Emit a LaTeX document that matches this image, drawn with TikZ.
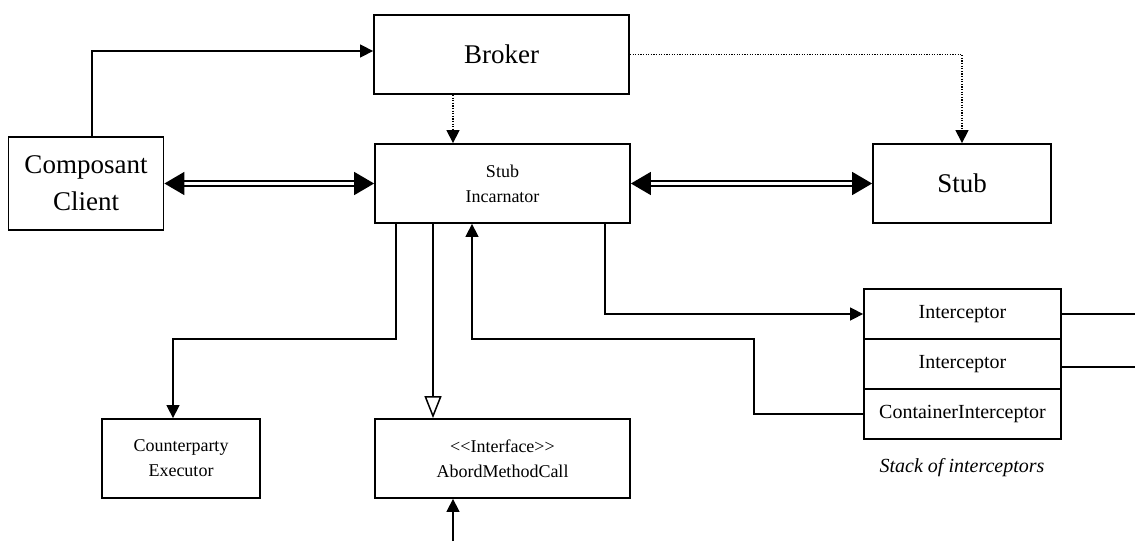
\documentclass[tikz,border=0pt]{standalone}
\usepackage{fontspec}
\setmainfont{Liberation Serif}
\usetikzlibrary{arrows.meta,calc}
\begin{document}
\begin{tikzpicture}[x=1pt,y=-1pt,
  box/.style={draw,line width=1.8pt,inner sep=0pt,align=center},
  big/.style={font=\fontsize{27}{37}\selectfont},
  small/.style={font=\fontsize{18}{25}\selectfont},
  mid/.style={font=\fontsize{20}{24}\selectfont},
  conn/.style={line width=1.5pt},
  tip/.style={-{Triangle[length=13pt,width=13pt]}},
  dtip/.style={{Triangle[length=20pt,width=23pt]}-{Triangle[length=20pt,width=23pt]}},
  dbl/.style={line width=1.6pt,double,double distance=3pt},
  dots/.style={line width=1.3pt,dash pattern=on 1.3pt off 1.3pt},
]
\useasboundingbox (0,0) rectangle (1135,541);
% boxes
\node[box,big,minimum width=155pt,minimum height=93pt] (cc) at (86,183.5) {Composant\\Client};
\node[box,big,minimum width=255pt,minimum height=79pt] (broker) at (501.5,54.5) {Broker};
\node[box,small,minimum width=255pt,minimum height=79pt] (si) at (502.5,183.5) {Stub\\Incarnator};
\node[box,big,minimum width=178pt,minimum height=79pt] (stub) at (962,183.5) {Stub};
\node[box,small,minimum width=158pt,minimum height=79pt] (ce) at (181,458.5) {Counterparty\\Executor};
\node[box,small,minimum width=255pt,minimum height=79pt] (am) at (502.5,458.5) {<\kern0pt<Interface>\kern0pt>\\AbordMethodCall};
\node[box,mid,minimum width=197pt,minimum height=50pt] (i1) at (962.5,314) {Interceptor};
\node[box,mid,minimum width=197pt,minimum height=50pt] (i2) at (962.5,364) {Interceptor};
\node[box,mid,minimum width=197pt,minimum height=50pt] (i3) at (962.5,414) {ContainerInterceptor};
\node[font=\fontsize{20}{24}\selectfont\itshape] (lbl) at (962,468) {Stack of interceptors};
% free ends
\coordinate (e1) at (1135,314);
\coordinate (e2) at (1135,367);
\coordinate (bot) at (453,541);
% connectors
\draw[conn,tip] ([xshift=6pt]cc.north) |- ([yshift=3.5pt]broker.west);
\draw[dots,tip] ([xshift=-48.5pt]broker.south) -- ([xshift=-49.5pt]si.north);
\draw[dots,tip] (broker.east) -| (stub.north);
\draw[dbl,dtip] (cc.east) -- (si.west);
\draw[dbl,dtip] (si.east) -- (stub.west);
\draw[conn,tip] ([xshift=-106.5pt]si.south) -- ++(0,115) -| ([xshift=-8pt]ce.north);
\draw[conn,-{Triangle[open,length=22pt,width=17pt]}] ([xshift=-69.5pt]si.south) -- ([xshift=-69.5pt]am.north);
\draw[conn,tip] (i3.west) -- ++(-109,0) -- ++(0,-75) -| ([xshift=-30.5pt]si.south);
\draw[conn,tip] ([xshift=102.5pt]si.south) |- (i1.west);
\draw[conn] (i1.east) -- (e1);
\draw[conn] ([yshift=-3pt]i2.east) -- (e2);
\draw[conn,tip] (bot) -- ([xshift=-49.5pt]am.south);
\end{tikzpicture}
\end{document}
